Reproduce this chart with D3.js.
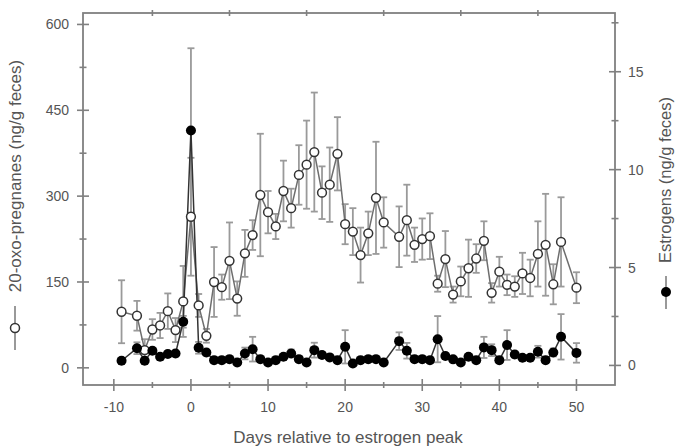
<!DOCTYPE html>
<html>
<head>
<meta charset="utf-8">
<script src="https://cdn.jsdelivr.net/npm/d3@7"></script>
<style>
    body { margin: 0; background: #fff; }
    svg text { font-family: "Liberation Sans", Arial, sans-serif; fill: #555; }
</style>
</head>
<body>
<div id="chart"></div>
<script>
// days relative to estrogen peak (day 26 and 49 have no samples)
const days = [-9, -7, -6, -5, -4, -3, -2, -1, 0, 1, 2, 3, 4, 5, 6, 7, 8, 9, 10, 11, 12, 13, 14, 15, 16, 17, 18, 19,
    20, 21, 22, 23, 24, 25, 27, 28, 29, 30, 31, 32, 33, 34, 35, 36, 37, 38, 39, 40, 41, 42, 43, 44, 45, 46, 47, 48, 50];

// 20-oxo-pregnanes (ng/g feces), left axis
const pregnanes = [98, 91, 31, 67, 74, 99, 66, 116, 264, 109, 56, 150, 141, 187, 121, 200, 232, 302, 272, 247, 309, 279, 337, 355, 377, 306, 320, 374,
    251, 238, 197, 235, 297, 254, 229, 258, 215, 225, 230, 147, 190, 128, 151, 174, 191, 222, 131, 168, 145, 142, 165, 157, 199, 215, 146, 220, 140];
const pregnanesErr = [55, 26, 19, 18, 22, 31, 21, 62, 103, 20, 12, 61, 22, 67, 30, 41, 26, 107, 37, 22, 53, 34, 52, 77, 104, 46, 65, 64,
    35, 41, 48, 38, 98, 44, 53, 62, 30, 36, 40, 14, 49, 14, 26, 50, 25, 34, 17, 26, 18, 18, 36, 32, 57, 89, 35, 78, 27];

// estrogens (ng/g feces), right axis
const estrogens = [0.24, 0.88, 0.24, 0.75, 0.44, 0.58, 0.61, 2.23, 12.0, 0.9, 0.66, 0.27, 0.27, 0.32, 0.15, 0.61, 0.83, 0.32, 0.15, 0.27, 0.44, 0.61, 0.32, 0.15, 0.78, 0.53, 0.41, 0.27,
    0.95, 0.1, 0.27, 0.32, 0.32, 0.15, 1.24, 0.75, 0.32, 0.32, 0.27, 1.34, 0.48, 0.31, 0.15, 0.44, 0.27, 0.92, 0.78, 0.27, 1.04, 0.56, 0.39, 0.39, 0.7, 0.27, 0.66, 1.46, 0.64];
const estrogensErr = [0.15, 0.3, 0.15, 0.15, 0.15, 0.15, 0.15, 0.3, 4.2, 0.3, 0.15, 0.1, 0.1, 0.1, 0.1, 0.3, 0.63, 0.1, 0.1, 0.1, 0.15, 0.2, 0.1, 0.1, 0.38, 0.15, 0.1, 0.1,
    0.85, 0.1, 0.1, 0.1, 0.1, 0.1, 0.45, 0.4, 0.1, 0.1, 0.1, 1.18, 0.15, 0.1, 0.1, 0.15, 0.1, 0.54, 0.3, 0.1, 0.76, 0.15, 0.1, 0.1, 0.3, 0.1, 0.2, 1.16, 0.5];

const xTicks = [-10, 0, 10, 20, 30, 40, 50];
const leftTicks = [0, 150, 300, 450, 600];
const rightTicks = [0, 5, 10, 15];

const width = 675, height = 448;
const plot = { left: 83, right: 615, top: 13, bottom: 385 };

const svg = d3.select("#chart").append("svg")
    .attr("width", width)
    .attr("height", height);

const x = d3.scaleLinear().domain([-14, 55]).range([plot.left, plot.right]);
const yL = d3.scaleLinear().domain([-30, 620]).range([plot.bottom, plot.top]);
const yR = d3.scaleLinear().domain([-1, 18]).range([plot.bottom, plot.top]);

const axisColor = "#808080";

// frame
svg.append("rect")
    .attr("x", plot.left).attr("y", plot.top)
    .attr("width", plot.right - plot.left).attr("height", plot.bottom - plot.top)
    .attr("fill", "none")
    .attr("stroke", axisColor)
    .attr("stroke-width", 1.8);

// ticks crossing the frame lines
function crossTicks(g, pos, vals, len, vertical) {
    g.selectAll(null).data(vals).enter().append("line")
        .attr("x1", d => vertical ? pos - len : x(d))
        .attr("x2", d => vertical ? pos + len : x(d))
        .attr("y1", d => vertical ? d : pos - len)
        .attr("y2", d => vertical ? d : pos + len)
        .attr("stroke", axisColor)
        .attr("stroke-width", 1.6);
}

const ticksG = svg.append("g");
const xMinor = xTicks.slice(0, -1).map(d => d + 5);
crossTicks(ticksG, plot.bottom, xTicks, 6, false);
crossTicks(ticksG, plot.bottom, xMinor, 3, false);
crossTicks(ticksG, plot.top, xMinor, 3, false);
crossTicks(ticksG, plot.left, leftTicks.map(d => yL(d)), 6, true);
crossTicks(ticksG, plot.left, leftTicks.slice(0, -1).map(d => yL(d + 75)), 3.5, true);
crossTicks(ticksG, plot.right, rightTicks.map(d => yR(d)), 6, true);
crossTicks(ticksG, plot.right, rightTicks.map(d => yR(d + 2.5)), 3.5, true);

// tick labels
svg.append("g").selectAll("text").data(xTicks).enter().append("text")
    .attr("x", d => x(d))
    .attr("y", 412)
    .attr("text-anchor", "middle")
    .style("font-size", "14px")
    .text(d => d);

svg.append("g").selectAll("text").data(leftTicks).enter().append("text")
    .attr("x", 69)
    .attr("y", d => yL(d) + 5)
    .attr("text-anchor", "end")
    .style("font-size", "14px")
    .text(d => d);

svg.append("g").selectAll("text").data(rightTicks).enter().append("text")
    .attr("x", 628)
    .attr("y", d => yR(d) + 5)
    .attr("text-anchor", "start")
    .style("font-size", "14px")
    .text(d => d);

// axis titles
svg.append("text")
    .attr("x", 348).attr("y", 443)
    .attr("text-anchor", "middle")
    .style("font-size", "17px")
    .text("Days relative to estrogen peak");

svg.append("text")
    .attr("transform", "translate(21, 176) rotate(-90)")
    .attr("text-anchor", "middle")
    .style("font-size", "17px")
    .text("20-oxo-pregnanes (ng/g feces)");

svg.append("text")
    .attr("transform", "translate(670.5, 180) rotate(-90)")
    .attr("text-anchor", "middle")
    .style("font-size", "16.5px")
    .text("Estrogens (ng/g feces)");

// legend symbols next to the axis titles
svg.append("line").attr("x1", 15).attr("x2", 15).attr("y1", 306).attr("y2", 350)
    .attr("stroke", "#777").attr("stroke-width", 1.5);
svg.append("circle").attr("cx", 15).attr("cy", 328).attr("r", 4.5)
    .attr("fill", "#fff").attr("stroke", "#333").attr("stroke-width", 1.5);
svg.append("line").attr("x1", 666).attr("x2", 666).attr("y1", 276).attr("y2", 309)
    .attr("stroke", "#777").attr("stroke-width", 1.5);
svg.append("circle").attr("cx", 666).attr("cy", 292).attr("r", 5)
    .attr("fill", "#000");

const pregData = days.map((d, i) => ({ day: d, v: pregnanes[i], e: pregnanesErr[i] }));
const estData = days.map((d, i) => ({ day: d, v: estrogens[i], e: estrogensErr[i] }));

function errorBars(data, y) {
    const g = svg.append("g")
        .attr("stroke", "#9a9a9a")
        .attr("stroke-width", 1.8);
    g.selectAll(".bar").data(data).enter().append("line")
        .attr("x1", d => x(d.day)).attr("x2", d => x(d.day))
        .attr("y1", d => y(d.v - d.e)).attr("y2", d => y(d.v + d.e));
    g.selectAll(".capTop").data(data).enter().append("line")
        .attr("x1", d => x(d.day) - 3.5).attr("x2", d => x(d.day) + 3.5)
        .attr("y1", d => y(d.v + d.e)).attr("y2", d => y(d.v + d.e));
    g.selectAll(".capBot").data(data).enter().append("line")
        .attr("x1", d => x(d.day) - 3.5).attr("x2", d => x(d.day) + 3.5)
        .attr("y1", d => y(d.v - d.e)).attr("y2", d => y(d.v - d.e));
}

errorBars(pregData, yL);
errorBars(estData, yR);

// connecting lines
svg.append("path")
    .datum(pregData)
    .attr("fill", "none")
    .attr("stroke", "#6e6e6e")
    .attr("stroke-width", 1.5)
    .attr("d", d3.line().x(d => x(d.day)).y(d => yL(d.v)));

svg.append("path")
    .datum(estData)
    .attr("fill", "none")
    .attr("stroke", "#333")
    .attr("stroke-width", 1.5)
    .attr("d", d3.line().x(d => x(d.day)).y(d => yR(d.v)));

// markers
svg.append("g").selectAll("circle").data(pregData).enter().append("circle")
    .attr("cx", d => x(d.day))
    .attr("cy", d => yL(d.v))
    .attr("r", 4.4)
    .attr("fill", "#fff")
    .attr("stroke", "#333")
    .attr("stroke-width", 1.5);

svg.append("g").selectAll("circle").data(estData).enter().append("circle")
    .attr("cx", d => x(d.day))
    .attr("cy", d => yR(d.v))
    .attr("r", 5)
    .attr("fill", "#000");
</script>
</body>
</html>
